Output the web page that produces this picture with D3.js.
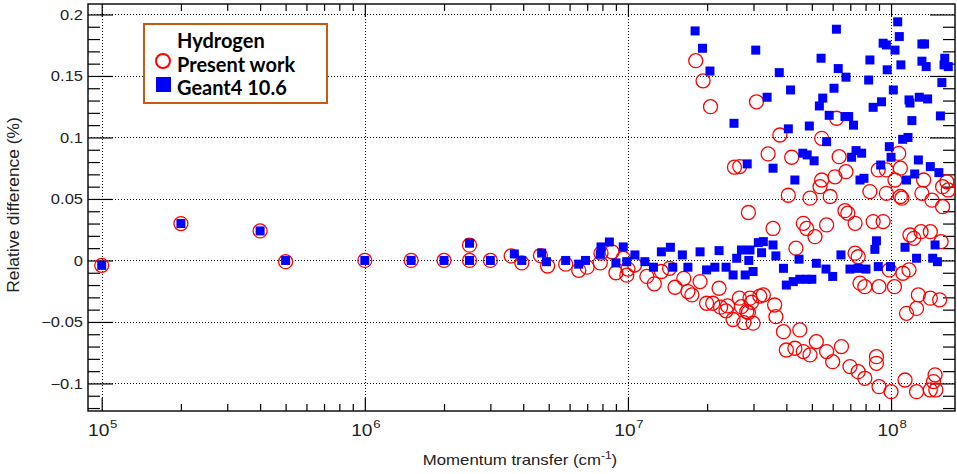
<!DOCTYPE html>
<html><head><meta charset="utf-8">
<script src="https://cdn.jsdelivr.net/npm/d3@7/dist/d3.min.js"></script>
<style>
html,body{margin:0;padding:0;background:#fff;}
svg{display:block;}
</style></head>
<body>
<script>
// ---------- data ----------
const xDomain = [8.87e4, 1.75e8];
const yDomain = [-0.1224, 0.2085];
const xMajorTicks = [1e5, 1e6, 1e7, 1e8];
const xTickExponents = ["5", "6", "7", "8"];
const yMajorTicks = [-0.1, -0.05, 0, 0.05, 0.1, 0.15, 0.2];
const yTickLabels = ["\u22120.1", "\u22120.05", "0", "0.05", "0.1", "0.15", "0.2"];
const xTitle = "Momentum transfer (cm";
const yTitle = "Relative difference (%)";
const legendTitle = "Hydrogen";
const seriesNames = ["Present work", "Geant4 10.6"];

// Present work (red open circles): [momentum transfer, relative difference]
const presentWork = [
  [1e5,-0.004],[2e5,0.030],[4e5,0.024],[5e5,-0.001],[1e6,0],[1.5e6,0],[2e6,0],[2.5e6,0],[2.5e6,0.0124],[3e6,0],
  [3.6e6,0.0037],[3.95e6,-0.002],[4.65e6,0.004],[4.95e6,-0.0045],[5.8e6,-0.003],[6.5e6,-0.008],[7e6,-0.0055],
  [7.85e6,-0.002],[7.9e6,0.006],[8.7e6,0.007],[9e6,-0.010],[9.6e6,0.0018],[9.9e6,-0.012],[1.0e7,-0.007],
  [1.06e7,-0.0037],[1.18e7,-0.013],[1.26e7,-0.019],[1.34e7,-0.009],[1.44e7,-0.0064],[1.51e7,-0.0218],
  [1.63e7,-0.0145],[1.69e7,-0.0253],[1.75e7,-0.028],[1.88e7,-0.0172],[1.99e7,-0.0348],[2.1e7,-0.0348],
  [2.22e7,-0.0226],[2.25e7,-0.038],[2.39e7,-0.037],[2.36e7,-0.041],[2.51e7,-0.048],[2.65e7,-0.0307],
  [2.7e7,-0.0376],[2.76e7,-0.0505],[2.87e7,-0.0424],[2.95e7,-0.034],[2.99e7,-0.051],[3.17e7,-0.029],[2.87e7,0.039],
  [1.81e7,0.1624],[1.93e7,0.146],[2.06e7,0.125],[2.54e7,0.0758],[3.08e7,0.129],[3.78e7,0.102],[3.41e7,0.0866],
  [4.19e7,0.0839],[5.45e7,0.0993],[6.21e7,0.1156],[6.35e7,0.0844],[5.45e7,0.0654],[5.37e7,0.06],[6.12e7,0.068],
  [6.74e7,0.0722],[2.66e7,0.0763],[4.07e7,0.053],[4.92e7,0.0506],[5.87e7,0.052],[8.31e7,0.056],[8.94e7,0.0736],
  [9.6e7,0.0736],[1.07e8,0.087],[1.085e8,0.075],[9.6e7,0.0546],[1.085e8,0.052],[1.035e8,0.0654],[1.33e8,0.0654],
  [1.31e8,0.0546],[1.57e8,0.06],[1.65e8,0.0573],[1.63e8,0.064],
  [1.1e8,0.0506],[1.43e8,0.049],[1.57e8,0.0437],[3.56e7,0.026],[4.64e7,0.0302],[4.78e7,0.026],[5.14e7,0.0193],
  [5.69e7,0.0289],[4.35e7,0.01],[6.68e7,0.0405],[6.85e7,0.0384],[7.3e7,0.0302],[7.3e7,0.0059],[7.5e7,0.003],
  [8.55e7,0.0316],[9.33e7,0.0316],[7.62e7,-0.0185],[7.95e7,-0.0213],[9.0e7,-0.0213],[1.03e8,-0.0213],
  [9.85e7,-0.0077],[1.11e8,-0.0104],[1.17e8,-0.0077],[1.18e8,0.0207],[1.22e8,0.018],[1.3e8,0.0234],[1.41e8,0.0234],
  [1.55e8,0.0153],[1.27e8,-0.028],[1.41e8,-0.0307],[1.53e8,-0.032],[1.145e8,-0.043],[1.25e8,-0.039],
  [2.91e7,-0.0307],[3.27e7,-0.028],[3.61e7,-0.0362],[2.83e7,-0.0416],[3.65e7,-0.0457],[3.9e7,-0.0579],
  [4.5e7,-0.0565],[4.0e7,-0.0728],[4.31e7,-0.0714],[4.64e7,-0.0741],[4.92e7,-0.0768],[5.2e7,-0.066],
  [5.69e7,-0.0741],[6.0e7,-0.0823],[6.48e7,-0.070],[6.98e7,-0.0863],[7.5e7,-0.0904],[7.95e7,-0.0958],
  [8.8e7,-0.0782],[8.8e7,-0.0836],[9.0e7,-0.1026],[1.0e8,-0.1067],[1.13e8,-0.0972],[1.25e8,-0.1067],
  [1.45e8,-0.0985],[1.47e8,-0.093],[1.48e8,-0.1053],[1.41e8,-0.1053]
];

// Geant4 10.6 (blue filled squares)
const geant4 = [
  [1e5,-0.004],[2e5,0.030],[4e5,0.024],[5e5,0],[1e6,0],[1.5e6,0],[2e6,0],[2.5e6,0],[2.5e6,0.014],[3e6,0],
  [3.7e6,0.0053],[3.95e6,0],[4.7e6,0.006],[4.9e6,-0.001],[5.8e6,0],[6.5e6,-0.003],[6.9e6,0],[7.85e6,0.005],
  [7.9e6,0.011],[8.5e6,0.015],[9e6,-0.002],[9.6e6,0.011],[9.9e6,-0.001],[1.063e7,0.0045],[1.16e7,-0.001],
  [1.25e7,-0.0055],[1.34e7,0.007],[1.45e7,0.0107],[1.48e7,-0.0055],[1.61e7,0.0045],[1.69e7,-0.0055],
  [1.88e7,0.007],[1.99e7,-0.0077],[2.14e7,-0.0055],[2.22e7,0.008],[2.36e7,-0.0055],[2.51e7,-0.0118],
  [2.59e7,0.0018],[2.7e7,0.0085],[2.91e7,0.0085],[2.88e7,0],[2.79e7,-0.0118],[2.99e7,-0.009],[3.13e7,0.0145],
  [1.8e7,0.1866],[1.92e7,0.1725],[2.05e7,0.154],[2.53e7,0.1115],[2.84e7,0.0785],[3.06e7,0.171],[3.38e7,0.1327],
  [3.76e7,0.1527],[4.07e7,0.107],[4.15e7,0.1386],[3.56e7,0.075],[4.31e7,0.0654],[4.62e7,0.0872],[4.8e7,0.0858],
  [5.1e7,0.081],[4.89e7,0.1093],[5.42e7,0.1644],[5.5e7,0.132],[5.34e7,0.1256],[5.82e7,0.118],[5.69e7,0.0966],
  [6.2e7,0.188],[6.3e7,0.156],[6.07e7,0.14],[6.74e7,0.149],[6.68e7,0.117],[6.9e7,0.117],[7.2e7,0.110],
  [7.08e7,0.0839],[7.36e7,0.0893],[7.73e7,0.0872],[7.62e7,0.0654],[7.89e7,0.0668],[8.31e7,0.163],[8.22e7,0.1467],
  [8.55e7,0.1245],[9.2e7,0.129],[9.13e7,0.0776],[9.33e7,0.1766],[9.6e7,0.1752],[9.67e7,0.155],[9.85e7,0.0925],
  [1.0e8,0.0839],[1.02e8,0.1386],[1.035e8,0.171],[1.06e8,0.194],[1.075e8,0.182],[1.09e8,0.159],[1.107e8,0.0985],
  [1.16e8,0.100],[1.2e8,0.1137],[1.145e8,0.0654],[1.23e8,0.0703],[1.27e8,0.0817],[1.17e8,0.1305],[1.18e8,0.128],
  [1.28e8,0.1327],[1.377e8,0.1313],[1.31e8,0.176],[1.34e8,0.176],[1.31e8,0.162],[1.36e8,0.1576],[1.41e8,0.0763],
  [1.52e8,0.0714],[1.54e8,0.1175],[1.56e8,0.1446],[1.6e8,0.1644],[1.59e8,0.159],[1.65e8,0.1576],
  [3.27e7,0.0153],[3.22e7,0.0063],[3.56e7,0.0126],[3.65e7,0.0037],[3.9e7,-0.0064],[4.0e7,-0.02],[4.25e7,-0.0172],
  [4.47e7,0.001],[4.5e7,-0.0153],[4.78e7,-0.0153],[5.0e7,-0.0153],[5.2e7,-0.0023],[5.66e7,-0.007],[6.0e7,-0.013],
  [6.45e7,0.0045],[6.98e7,-0.007],[7.5e7,-0.0064],[8.03e7,-0.007],[8.8e7,0.016],[8.68e7,0.009],[8.94e7,-0.005],
  [9.95e7,-0.005],[1.13e8,0.0107],[1.25e8,0.0018],[1.47e8,0.0126],[1.44e8,0.0018],[1.5e8,-0.001]
];

// ---------- chart ----------
const W = 957, H = 474;
const L = 88, R = 955, T = 4, B = 411;
const svg = d3.select("body").append("svg").attr("width", W).attr("height", H);
svg.append("rect").attr("width", W).attr("height", H).attr("fill", "#fff");

const x = d3.scaleLog().domain(xDomain).range([L, R]);
const y = d3.scaleLinear().domain(yDomain).range([B, T]);

const xMinorTicks = [];
[1e5, 1e6, 1e7, 1e8].forEach(d => d3.range(2, 10).forEach(m => { const v = d * m; if (v > xDomain[0] && v < xDomain[1]) xMinorTicks.push(v); }));
const yMinorTicks = d3.range(-12, 21).map(i => i / 100).filter(v => yMajorTicks.indexOf(v) < 0);

// grid
const grid = svg.append("g").attr("stroke", "#000").attr("stroke-width", 1).attr("stroke-dasharray", "1,2");
grid.selectAll(".gx").data(xMajorTicks).join("line")
  .attr("x1", d => Math.round(x(d)) + 0.5).attr("x2", d => Math.round(x(d)) + 0.5).attr("y1", T).attr("y2", B);
grid.selectAll(".gy").data(yMajorTicks).join("line")
  .attr("y1", d => Math.round(y(d)) + 0.5).attr("y2", d => Math.round(y(d)) + 0.5).attr("x1", L).attr("x2", R);

// axes (ticks inward, ROOT style)
function styleAxis(g) {
  g.select(".domain").remove();
  g.selectAll(".tick line").attr("stroke", "#000").attr("stroke-width", 1.2);
  g.selectAll(".tick text").remove();
}
svg.append("g").attr("transform", `translate(0,${B})`).call(d3.axisBottom(x).tickValues(xMajorTicks).tickSize(-13)).call(styleAxis);
svg.append("g").attr("transform", `translate(0,${B})`).call(d3.axisBottom(x).tickValues(xMinorTicks).tickSize(-7)).call(styleAxis);
svg.append("g").attr("transform", `translate(0,${T})`).call(d3.axisTop(x).tickValues(xMajorTicks).tickSize(-13)).call(styleAxis);
svg.append("g").attr("transform", `translate(0,${T})`).call(d3.axisTop(x).tickValues(xMinorTicks).tickSize(-7)).call(styleAxis);
svg.append("g").attr("transform", `translate(${L},0)`).call(d3.axisLeft(y).tickValues(yMajorTicks).tickSize(-25)).call(styleAxis);
svg.append("g").attr("transform", `translate(${L},0)`).call(d3.axisLeft(y).tickValues(yMinorTicks).tickSize(-12)).call(styleAxis);
svg.append("g").attr("transform", `translate(${R},0)`).call(d3.axisRight(y).tickValues(yMajorTicks).tickSize(-25)).call(styleAxis);
svg.append("g").attr("transform", `translate(${R},0)`).call(d3.axisRight(y).tickValues(yMinorTicks).tickSize(-12)).call(styleAxis);

// frame
svg.append("rect").attr("x", L).attr("y", T).attr("width", R - L).attr("height", B - T)
  .attr("fill", "none").attr("stroke", "#000").attr("stroke-width", 1.4);

const FONT = "'Liberation Sans', Arial, Helvetica, sans-serif";
// y tick labels
svg.append("g").selectAll("text").data(yMajorTicks).join("text")
  .attr("transform", d => `translate(83,${y(d) + 5.5}) scale(1.18,1)`)
  .attr("text-anchor", "end").attr("font-family", FONT).attr("font-size", 14).attr("fill", "#222")
  .text((d, i) => yTickLabels[i]);

// x tick labels (10^n)
const xl = svg.append("g").selectAll("g").data(xMajorTicks).join("g")
  .attr("transform", d => `translate(${x(d) - 3},436) scale(1.2,1)`);
xl.append("text").attr("text-anchor", "middle").attr("font-family", FONT).attr("font-size", 16).attr("fill", "#222").text("10");
xl.append("text").attr("x", 9.5).attr("y", -8).attr("font-family", FONT).attr("font-size", 11).attr("fill", "#222")
  .text((d, i) => xTickExponents[i]);

// axis titles
const xt = svg.append("text").attr("transform", "translate(520,465) scale(1.2,1)")
  .attr("text-anchor", "middle").attr("font-family", FONT).attr("font-size", 14).attr("fill", "#222");
xt.append("tspan").text(xTitle);
xt.append("tspan").attr("font-size", 10).attr("dy", -6).text("-1");
xt.append("tspan").attr("dy", 6).text(")");

svg.append("text").attr("transform", "translate(18.5,205) rotate(-90)")
  .attr("text-anchor", "middle").attr("font-family", FONT).attr("font-size", 17.4).attr("fill", "#222")
  .text(yTitle);

// data
const plot = svg.append("g");
plot.selectAll("circle").data(presentWork).join("circle")
  .attr("cx", d => x(d[0])).attr("cy", d => y(d[1])).attr("r", 7)
  .attr("fill", "none").attr("stroke", "#ff0000").attr("stroke-width", 1.3);
plot.selectAll("rect").data(geant4).join("rect")
  .attr("x", d => x(d[0]) - 4.5).attr("y", d => y(d[1]) - 4.5).attr("width", 9).attr("height", 9)
  .attr("fill", "#0000ff");

// legend
const lg = svg.append("g");
lg.append("rect").attr("x", 144).attr("y", 24).attr("width", 183).attr("height", 79)
  .attr("fill", "#fff").attr("stroke", "#c55a11").attr("stroke-width", 2);
const LF = "Lato, 'Open Sans', sans-serif";
lg.append("text").attr("x", 177).attr("y", 48).attr("font-family", LF).attr("font-weight", "bold").attr("font-size", 20).attr("fill", "#000").text(legendTitle);
lg.append("circle").attr("cx", 163).attr("cy", 61).attr("r", 7).attr("fill", "none").attr("stroke", "#ff0000").attr("stroke-width", 2);
lg.append("text").attr("x", 177).attr("y", 71.5).attr("font-family", LF).attr("font-weight", "bold").attr("font-size", 20).attr("fill", "#000").text(seriesNames[0]);
lg.append("rect").attr("x", 156).attr("y", 77).attr("width", 15).attr("height", 15).attr("fill", "#0000ff");
lg.append("text").attr("x", 177).attr("y", 94.5).attr("font-family", LF).attr("font-weight", "bold").attr("font-size", 20).attr("fill", "#000").text(seriesNames[1]);
</script>
</body></html>
